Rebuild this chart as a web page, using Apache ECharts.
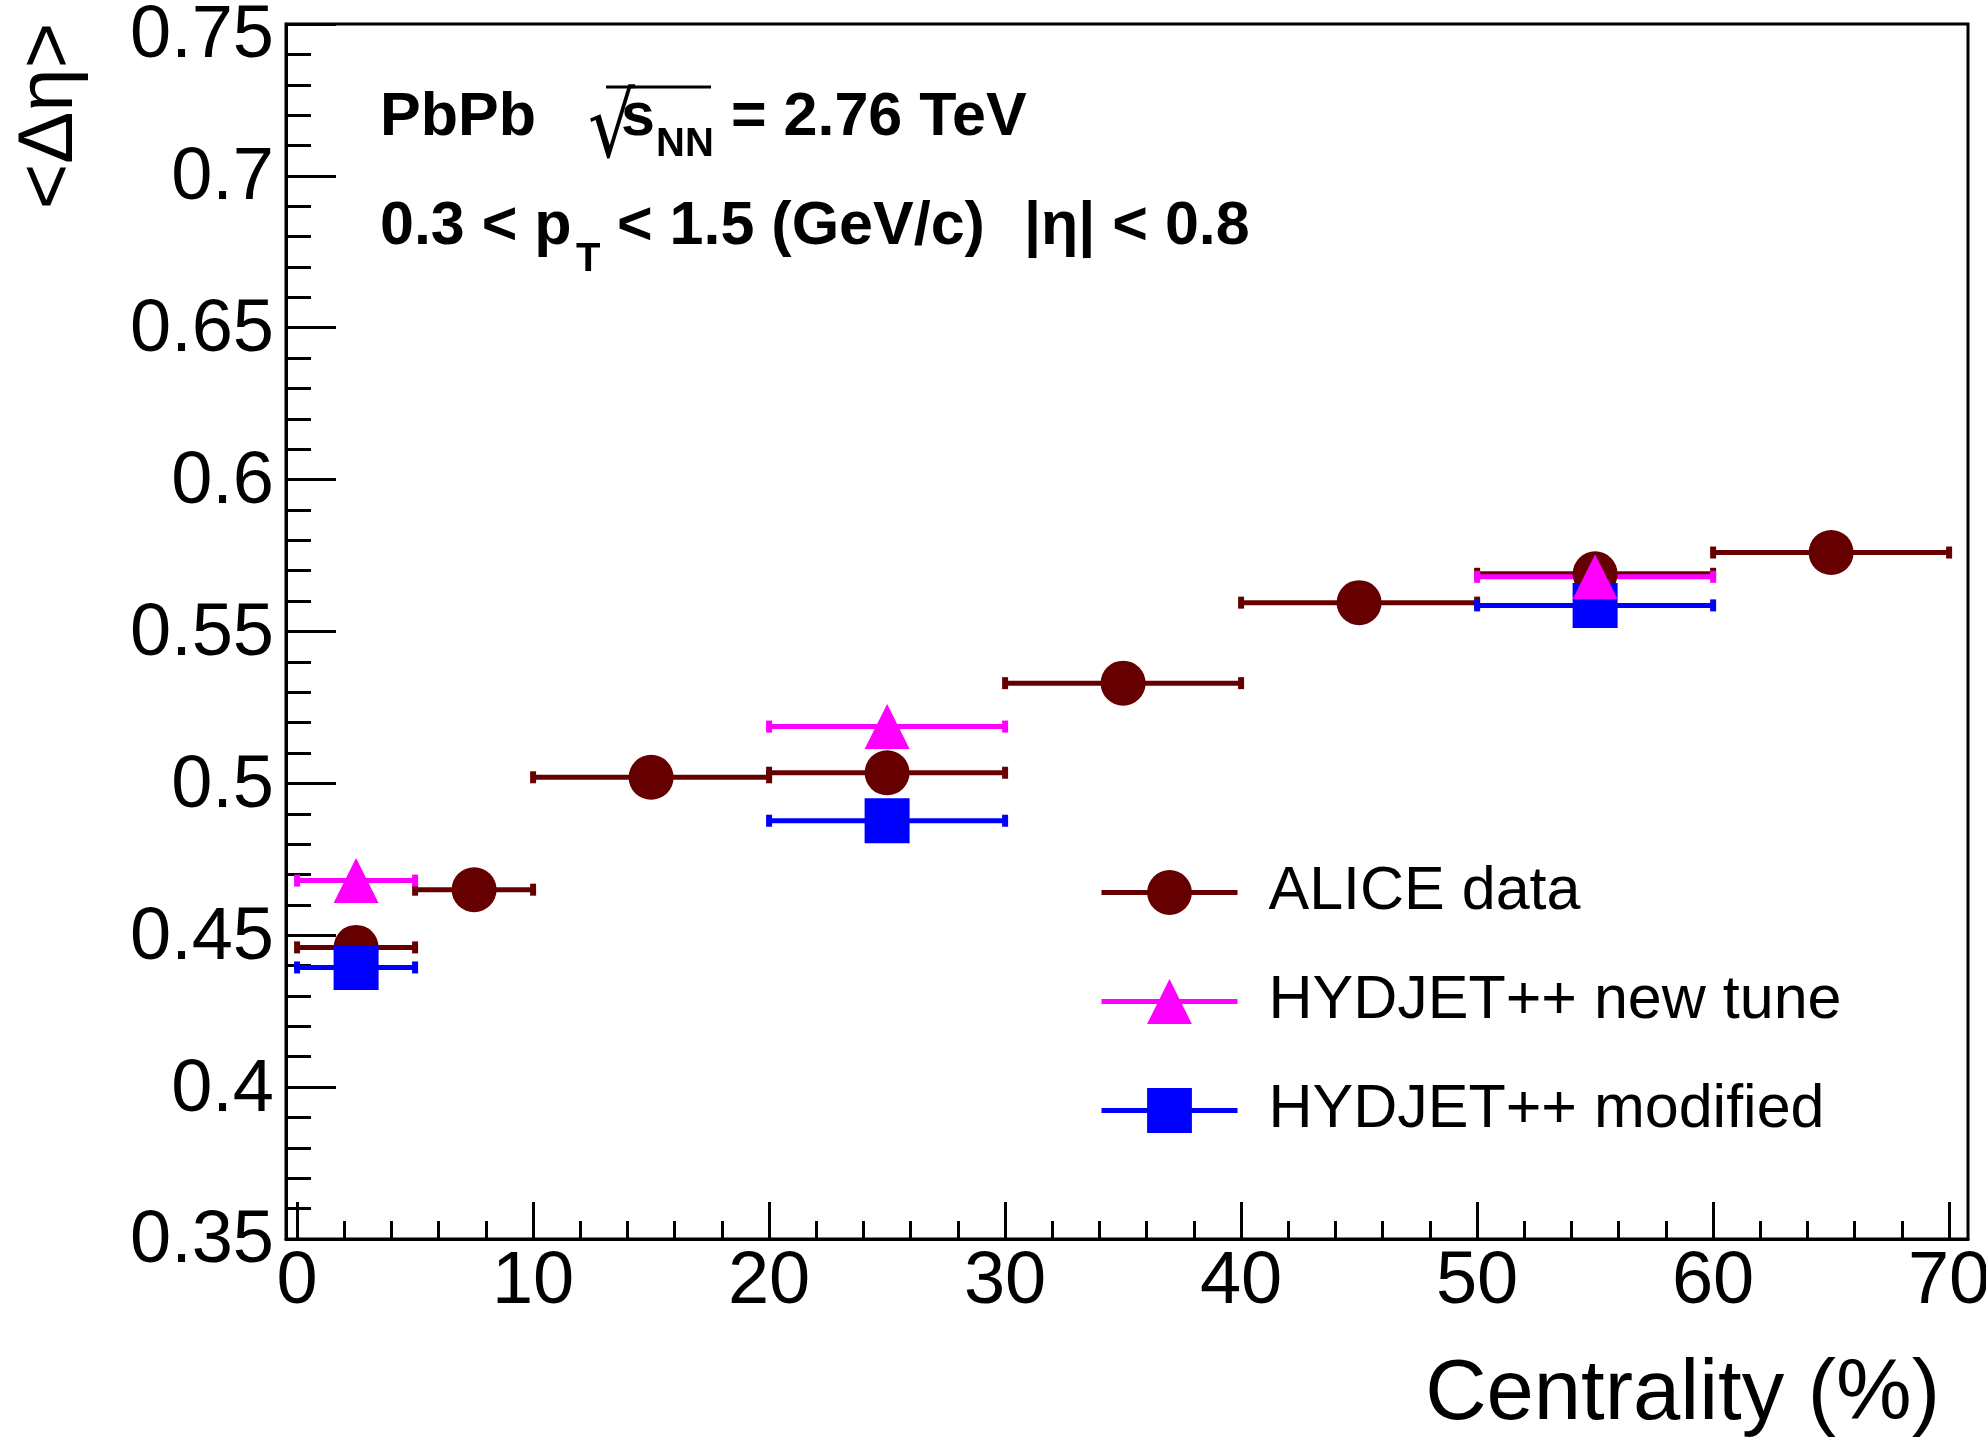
<!DOCTYPE html>
<html>
<head>
<meta charset="utf-8">
<title>Delta eta vs centrality</title>
<script src="https://cdn.jsdelivr.net/npm/echarts@6/dist/echarts.min.js"></script>
<style>
  html, body { margin: 0; padding: 0; background: #fff; }
  #chart { width: 1986px; height: 1440px; }
</style>
</head>
<body>
<div id="chart"></div>
<script>
// centrality bins (%)
const aliceLow = [0, 5, 10, 20, 30, 40, 50, 60]
const aliceHigh = [5, 10, 20, 30, 40, 50, 60, 70]
const aliceY = [0.446, 0.465, 0.502, 0.5035, 0.533, 0.5595, 0.569, 0.576]

const hydLow = [0, 20, 50]
const hydHigh = [5, 30, 60]
const newTuneY = [0.468, 0.5187, 0.568]
const modifiedY = [0.4394, 0.4877, 0.5586]

const xMajorTicks = [0, 10, 20, 30, 40, 50, 60, 70]
const xMinorTicks = [0, 2, 4, 6, 8, 10, 12, 14, 16, 18, 20, 22, 24, 26, 28, 30, 32, 34,
  36, 38, 40, 42, 44, 46, 48, 50, 52, 54, 56, 58, 60, 62, 64, 66, 68, 70]
const yTicks = [0.35, 0.4, 0.45, 0.5, 0.55, 0.6, 0.65, 0.7, 0.75]

const FONT = '"Liberation Sans", Arial, Helvetica, sans-serif'
const C_ALICE = '#660000'
const C_TUNE = '#ff00ff'
const C_MOD = '#0000ff'

const bins = (lo, hi, y) => y.map((v, i) => [lo[i], hi[i], v])
const points = (lo, hi, y) => y.map((v, i) => [(lo[i] + hi[i]) / 2, v])

function errorBars(color) {
  return function (params, api) {
    const y = api.value(2)
    const a = api.coord([api.value(0), y])
    const b = api.coord([api.value(1), y])
    return {
      type: 'group',
      children: [
        { type: 'line', shape: { x1: a[0], y1: a[1], x2: b[0], y2: b[1] }, style: { stroke: color, lineWidth: 5 } },
        { type: 'rect', shape: { x: a[0] - 3, y: a[1] - 6, width: 6, height: 12 }, style: { fill: color } },
        { type: 'rect', shape: { x: b[0] - 3, y: b[1] - 6, width: 6, height: 12 }, style: { fill: color } }
      ]
    }
  }
}

function barSeries(name, color, data) {
  return {
    name, type: 'custom', renderItem: errorBars(color), data,
    encode: { x: [0, 1], y: 2 }, silent: true
  }
}

function markerSeries(name, color, symbol, data) {
  return {
    name, type: 'line', data, symbol, symbolSize: 45,
    showAllSymbol: true,
    lineStyle: { width: 0, opacity: 0, color },
    itemStyle: { color, opacity: 1 },
    emphasis: { disabled: true },
    silent: true
  }
}

function txt(x, y, text, size, weight) {
  return {
    type: 'text', x, y,
    style: {
      text, fill: '#000', fontSize: size, fontWeight: weight || 'normal',
      fontFamily: FONT, align: 'left', verticalAlign: 'middle'
    }
  }
}

const yTop = yTicks[yTicks.length - 1]

const chart = echarts.init(document.getElementById('chart'), null, { renderer: 'canvas' })

chart.setOption({
  animation: false,
  backgroundColor: '#fff',
  grid: {
    left: 286, right: 18, top: 24, bottom: 201,
    outerBoundsMode: 'none',
    show: true, borderColor: '#000', borderWidth: 3, containLabel: false
  },
  xAxis: [
    {
      type: 'value', min: -0.47, max: 70.8,
      axisLine: { show: true, onZero: false, lineStyle: { color: '#000', width: 3 } },
      axisTick: { show: true, inside: true, length: 37, customValues: xMajorTicks, lineStyle: { color: '#000', width: 3 } },
      axisLabel: { customValues: xMajorTicks, color: '#000', fontSize: 74, fontFamily: FONT, margin: 7 },
      splitLine: { show: false }
    },
    {
      type: 'value', min: -0.47, max: 70.8, position: 'bottom',
      axisLine: { show: false },
      axisTick: { show: true, inside: true, length: 18, customValues: xMinorTicks, lineStyle: { color: '#000', width: 3 } },
      axisLabel: { show: false },
      splitLine: { show: false }
    }
  ],
  yAxis: {
    type: 'value', min: 0.35, max: 0.75, interval: 0.05,
    axisLine: { show: true, onZero: false, lineStyle: { color: '#000', width: 3 } },
    axisTick: { show: true, inside: true, length: 50, customValues: yTicks, lineStyle: { color: '#000', width: 3 } },
    minorTick: { show: true, splitNumber: 5, length: 25, lineStyle: { color: '#000', width: 3 } },
    axisLabel: {
      customValues: yTicks, color: '#000', fontSize: 74, fontFamily: FONT, margin: 12,
      formatter: v => Math.abs(v - yTop) < 1e-9 ? '{top|' + v + '}' : '{n|' + v + '}',
      rich: {
        n: { fontSize: 74, fontFamily: FONT, color: '#000', padding: [6, 0, 0, 0] },
        top: { fontSize: 74, fontFamily: FONT, color: '#000', padding: [26, 0, 0, 0] }
      }
    },
    splitLine: { show: false }
  },
  legend: {
    orient: 'vertical', left: 1099, top: 862, padding: 0,
    itemWidth: 136, itemHeight: 56, itemGap: 48,
    data: ['ALICE data', 'HYDJET++ new tune', 'HYDJET++ modified'],
    lineStyle: { width: 5, opacity: 1 },
    selectedMode: false,
    textStyle: { color: '#000', fontSize: 61, fontFamily: FONT, lineHeight: 56, padding: [0, 0, 0, 26] }
  },
  graphic: [
    // header line 1
    txt(380, 118, 'PbPb', 61, 'bold'),
    {
      type: 'text', x: 588, y: 134, scaleY: 1.21,
      style: { text: '\u221A', fill: '#000', fontSize: 74, fontFamily: '"DejaVu Sans", sans-serif', align: 'left', verticalAlign: 'middle' }
    },
    { type: 'line', shape: { x1: 606, y1: 87, x2: 711, y2: 87 }, style: { stroke: '#000', lineWidth: 3 } },
    txt(621, 118, 's', 61, 'bold'),
    txt(656, 145, 'NN', 40, 'bold'),
    txt(731, 118, '= 2.76 TeV', 61, 'bold'),
    // header line 2
    txt(380, 227, '0.3 < p', 61, 'bold'),
    txt(576, 260, 'T', 40, 'bold'),
    txt(617, 227, '< 1.5 (GeV/c)', 61, 'bold'),
    txt(1024, 227, '|\u03B7| < 0.8', 61, 'bold'),
    // axis titles
    {
      type: 'text', x: 50, y: 116, rotation: Math.PI / 2,
      style: { text: '<\u0394\u03B7>', fill: '#000', fontSize: 78, fontFamily: FONT, align: 'center', verticalAlign: 'middle' }
    },
    {
      type: 'text', x: 1940, y: 1396,
      style: { text: 'Centrality (%)', fill: '#000', fontSize: 85, fontFamily: FONT, align: 'right', verticalAlign: 'middle' }
    }
  ],
  series: [
    barSeries('ALICE bins', C_ALICE, bins(aliceLow, aliceHigh, aliceY)),
    markerSeries('ALICE data', C_ALICE, 'circle', points(aliceLow, aliceHigh, aliceY)),
    barSeries('modified bins', C_MOD, bins(hydLow, hydHigh, modifiedY)),
    markerSeries('HYDJET++ modified', C_MOD, 'rect', points(hydLow, hydHigh, modifiedY)),
    barSeries('new tune bins', C_TUNE, bins(hydLow, hydHigh, newTuneY)),
    markerSeries('HYDJET++ new tune', C_TUNE, 'triangle', points(hydLow, hydHigh, newTuneY))
  ]
})

window.addEventListener('resize', () => chart.resize())
</script>
</body>
</html>
